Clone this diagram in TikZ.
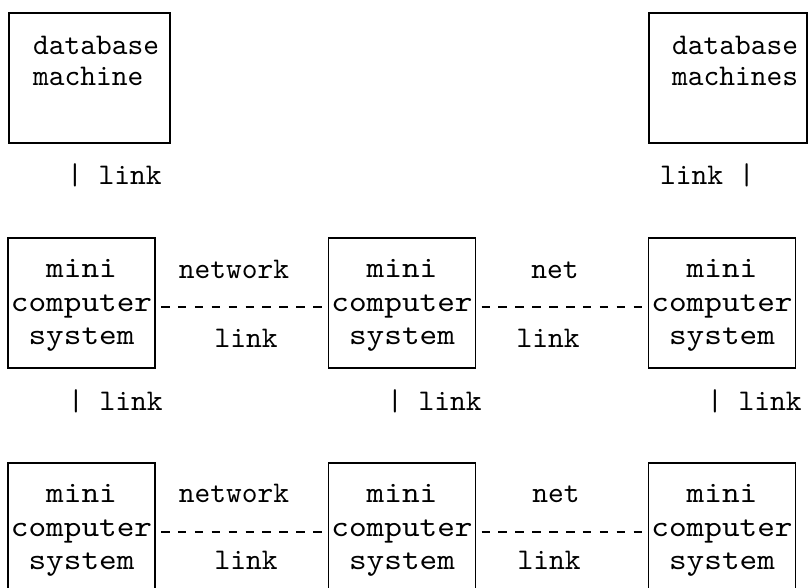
\documentclass[tikz,border=0pt]{standalone}
\usepackage{fontspec}
\usetikzlibrary{calc}
% typewriter faces: plain for labels, slightly wider for the text inside the boxes
\newfontfamily\typefont{lmmono10-regular.otf}
\newfontfamily\widetype{lmmono10-regular.otf}[FakeStretch=1.12]

\tikzset{
  every node/.style={inner sep=0pt, outer sep=0pt},
  txt/.style={font={\typefont\fontsize{30pt}{33pt}\selectfont}, anchor=base},
  boxtxt/.style={font={\widetype\fontsize{30pt}{33pt}\selectfont}, anchor=base},
  frame/.style={draw, line width=1.2pt, minimum height=130pt, inner sep=0pt},
  netdash/.style={line width=2pt, dash pattern=on 8.5pt off 8.4pt,
                  shorten <=6pt, shorten >=6pt},
  % one mini computer system: frame plus its three lines of text
  minisys/.pic={
    \node[frame, minimum width=147pt] (-f) at (0,0) {};
    \node[boxtxt] (-a) at (0,-26) {mini};
    \node[boxtxt] (-b) at (0,8) {computer};
    \node[boxtxt] (-c) at (0,41) {system};
  }
}

\begin{document}
\begin{tikzpicture}[x=1pt,y=-1pt]
\fill[white] (0,0) rectangle (810,588);
\clip (0,0) rectangle (810,588);

% database machines
\node[frame, minimum width=161pt, anchor=north west] (db1) at (9,13) {};
\node[txt, anchor=base west] (db1a) at (33,55) {database};
\node[txt, anchor=base west] (db1b) at (33,86) {machine};

\node[frame, minimum width=158pt, anchor=north west] (db2) at (649,13) {};
\node[txt, anchor=base west] (db2a) at (672,55) {database};
\node[txt, anchor=base west] (db2b) at (672,86) {machines};

\node[txt, anchor=base west] (lk1) at (67,184) {| link};
\node[txt, anchor=base west] (lk2) at (660,184) {link |};

% middle row of systems
\pic (m1) at (81.5,303) {minisys};
\pic (m2) at (402,303) {minisys};
\pic (m3) at (722,303) {minisys};

\node[txt] (n1) at (234,278) {network};
\node[txt] (n1b) at (246,347) {link};
\node[txt] (n2) at (555,278) {net};
\node[txt] (n2b) at (548,347) {link};

\draw[netdash] ([yshift=-4pt]m1-f.east) -- ([yshift=-4pt]m2-f.west);
\draw[netdash] ([yshift=-4pt]m2-f.east) -- ([yshift=-4pt]m3-f.west);

\node[txt, anchor=base west] (lk3) at (68,410) {| link};
\node[txt, anchor=base west] (lk4) at (387,410) {| link};
\node[txt, anchor=base west] (lk5) at (707,410) {| link};

% bottom row of systems
\pic (b1) at (81.5,528) {minisys};
\pic (b2) at (402,528) {minisys};
\pic (b3) at (722,528) {minisys};

\node[txt] (n3) at (234,502) {network};
\node[txt] (n3b) at (246,569) {link};
\node[txt] (n4) at (556,502) {net};
\node[txt] (n4b) at (549,569) {link};

\draw[netdash] ([yshift=-4pt]b1-f.east) -- ([yshift=-4pt]b2-f.west);
\draw[netdash] ([yshift=-4pt]b2-f.east) -- ([yshift=-4pt]b3-f.west);
\end{tikzpicture}
\end{document}
